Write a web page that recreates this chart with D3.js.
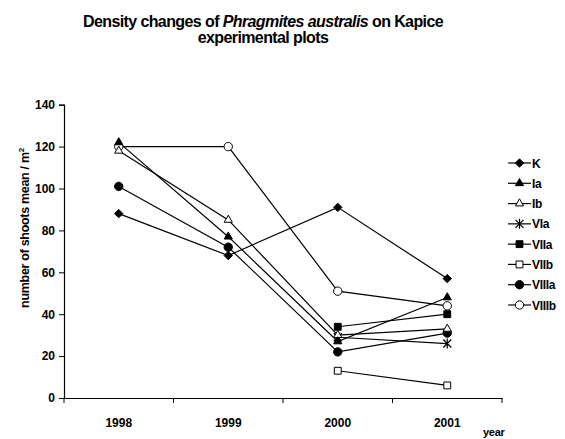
<!DOCTYPE html>
<html lang="en">
<head>
<meta charset="UTF-8">
<title>Density changes of Phragmites australis</title>
<style>
  body { margin: 0; background: #fff; }
  svg text { font-family: "Liberation Sans", Arial, sans-serif; font-weight: bold; fill: #000; }
  .title { font-size: 16px; letter-spacing: -0.6px; }
  .tick text { font-size: 12px; }
  .legend text { font-size: 12px; letter-spacing: -0.3px; }
</style>
</head>
<body>
<svg id="chart" width="565" height="439"></svg>
<script src="https://d3js.org/d3.v7.min.js"></script>
<script>
// data
var years = ["1998", "1999", "2000", "2001"];
var seriesNames = ["K", "Ia", "Ib", "VIa", "VIIa", "VIIb", "VIIIa", "VIIIb"];
var K     = [88, 68, 91, 57];
var Ia    = [122, 77, 27, 48];
var Ib    = [118, 85, 30, 33];
var VIa   = [null, null, 29, 26];
var VIIa  = [null, null, 34, 40];
var VIIb  = [null, null, 13, 6];
var VIIIa = [101, 72, 22, 31];
var VIIIb = [120, 120, 51, 44];
var yTicks = [0, 20, 40, 60, 80, 100, 120, 140];

var allValues = [K, Ia, Ib, VIa, VIIa, VIIb, VIIIa, VIIIb];

// marker style per series
var markerType = {
  K: "diamond", Ia: "triangle", Ib: "triangle", VIa: "star",
  VIIa: "square", VIIb: "square", VIIIa: "circle", VIIIb: "circle"
};
var markerFilled = {
  K: true, Ia: true, Ib: false, VIa: true,
  VIIa: true, VIIb: false, VIIIa: true, VIIIb: false
};

var svg = d3.select("#chart");

var x = d3.scaleBand().domain(years).range([64, 502]).padding(0);
var y = d3.scaleLinear().domain([0, 140]).range([398, 104.7]);
var cx = function(d) { return x(d) + x.bandwidth() / 2; };

// title
var title = svg.append("text").attr("class", "title").attr("text-anchor", "middle");
var t1 = title.append("tspan").attr("x", 263).attr("y", 27);
t1.append("tspan").text("Density changes of ");
t1.append("tspan").style("font-style", "italic").text("Phragmites australis");
t1.append("tspan").text(" on Kapice");
title.append("tspan").attr("x", 263).attr("y", 43).text("experimental plots");

// axes
svg.append("g")
  .attr("transform", "translate(64,0)")
  .call(d3.axisLeft(y).tickValues(yTicks).tickSize(5).tickPadding(4));

var xAxis = svg.append("g")
  .attr("transform", "translate(0,398)")
  .call(d3.axisBottom(x).tickSize(0).tickPadding(20));

// x ticks sit on the band edges, not the centres
var edges = years.map(function(d) { return x(d); }).concat([x.range()[1]]);
xAxis.selectAll(".edge")
  .data(edges)
  .enter().append("line")
  .attr("x1", function(d) { return d; })
  .attr("x2", function(d) { return d; })
  .attr("y1", 0).attr("y2", 5)
  .attr("stroke", "#000");

svg.selectAll(".domain").attr("stroke", "#000").attr("stroke-width", 1.2);
svg.selectAll(".tick line").attr("stroke", "#000");
svg.selectAll(".tick text").style("font-size", "12px").attr("font-family", null);

// axis titles
svg.append("text")
  .attr("transform", "translate(29,228) rotate(-90)")
  .attr("text-anchor", "middle")
  .style("font-size", "12.5px")
  .style("letter-spacing", "-0.3px")
  .html('number of shoots mean / m<tspan dy="-5" style="font-size:8px">2</tspan>');

svg.append("text")
  .attr("x", 483).attr("y", 436)
  .style("font-size", "11px")
  .style("letter-spacing", "-0.3px")
  .text("year");

// markers
function drawMarker(sel, name) {
  var type = markerType[name];
  var fill = markerFilled[name] ? "#000" : "#fff";
  if (type === "star") {
    sel.append("path")
      .attr("d", "M-4,-4L4,4M-4,4L4,-4M0,-5L0,5")
      .attr("stroke", "#000").attr("stroke-width", 1.2).attr("fill", "none");
    return;
  }
  var sym = {
    diamond: d3.symbol().type(d3.symbolDiamond2).size(45),
    triangle: d3.symbol().type(d3.symbolTriangle2).size(48),
    square: d3.symbol().type(d3.symbolSquare2).size(60),
    circle: d3.symbol().type(d3.symbolCircle).size(55)
  }[type];
  sel.append("path")
    .attr("d", sym)
    .attr("fill", fill)
    .attr("stroke", "#000")
    .attr("stroke-width", 1);
}

var line = d3.line()
  .defined(function(d) { return d.v != null; })
  .x(function(d) { return cx(d.year); })
  .y(function(d) { return y(d.v); });

seriesNames.forEach(function(name, i) {
  var pts = years.map(function(yr, j) { return { year: yr, v: allValues[i][j] }; });
  svg.append("path")
    .datum(pts)
    .attr("d", line)
    .attr("fill", "none")
    .attr("stroke", "#000")
    .attr("stroke-width", 1.2);
});

// markers drawn last-series-first so the early series sit on top
seriesNames.slice().reverse().forEach(function(name) {
  var i = seriesNames.indexOf(name);
  var pts = years.map(function(yr, j) { return { year: yr, v: allValues[i][j] }; })
    .filter(function(d) { return d.v != null; });
  svg.selectAll(".m" + name)
    .data(pts)
    .enter().append("g")
    .attr("transform", function(d) { return "translate(" + cx(d.year) + "," + y(d.v) + ")"; })
    .each(function() { drawMarker(d3.select(this), name); });
});

// legend
var legend = svg.append("g").attr("class", "legend");
var rowY = d3.scalePoint().domain(seriesNames).range([163, 305]);
seriesNames.forEach(function(name) {
  var g = legend.append("g").attr("transform", "translate(508," + rowY(name) + ")");
  g.append("line").attr("x1", 0).attr("x2", 23).attr("y1", 0).attr("y2", 0)
    .attr("stroke", "#000").attr("stroke-width", 1.2);
  var m = g.append("g").attr("transform", "translate(11.5,0)");
  drawMarker(m, name);
  g.append("text").attr("x", 24).attr("y", 4.5).text(name);
});
</script>
</body>
</html>
